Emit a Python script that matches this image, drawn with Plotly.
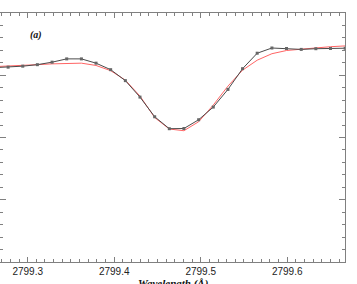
import plotly.graph_objects as go

wavelength = [2799.2604, 2799.2774, 2799.2943, 2799.3112, 2799.3282, 2799.3451,
              2799.3621, 2799.3790, 2799.3959, 2799.4129, 2799.4298, 2799.4468,
              2799.4637, 2799.4806, 2799.4976, 2799.5145, 2799.5315, 2799.5484,
              2799.5653, 2799.5823, 2799.5992, 2799.6162, 2799.6331, 2799.6500,
              2799.6670]

observed = [0.7804, 0.7825, 0.7865, 0.7925, 0.8025, 0.8157, 0.8157, 0.7985,
            0.7724, 0.7284, 0.6623, 0.5833, 0.5353, 0.5361, 0.5713, 0.6222,
            0.6931, 0.7764, 0.8385, 0.8594, 0.8574, 0.8538, 0.8566, 0.8574,
            0.8586]

model = [0.7845, 0.7865, 0.7893, 0.7925, 0.7957, 0.7985, 0.7985, 0.7893,
         0.7684, 0.7304, 0.6663, 0.5801, 0.5341, 0.5272, 0.5633, 0.6302,
         0.7063, 0.7704, 0.8105, 0.8365, 0.8494, 0.8546, 0.8606, 0.8646,
         0.8678]

x_ticks = [2799.3, 2799.4, 2799.5, 2799.6]
x_tick_labels = ["2799.3", "2799.4", "2799.5", "2799.6"]

fig = go.Figure()
fig.add_trace(go.Scatter(x=wavelength, y=model, mode="lines",
                         line=dict(color="#ff6464", width=1), cliponaxis=True,
                         showlegend=False))
fig.add_trace(go.Scatter(x=wavelength, y=observed, mode="lines+markers",
                         line=dict(color="#4a4a4a", width=1),
                         marker=dict(symbol="square", size=3, color="#666666"),
                         cliponaxis=True, showlegend=False))

axis_col = "#808080"
fig.update_layout(
    width=357, height=284,
    margin=dict(l=0, r=12, t=13, b=22),
    paper_bgcolor="white", plot_bgcolor="white",
    font=dict(family="Liberation Sans, Arial, sans-serif", size=10, color="#222222"),
    xaxis=dict(range=[2799.268, 2799.6668], showgrid=False, zeroline=False,
               showline=True, linecolor=axis_col, linewidth=1, mirror="ticks",
               ticks="inside", ticklen=5, tickcolor=axis_col, tickwidth=1,
               tickvals=x_ticks, ticktext=x_tick_labels,
               minor=dict(dtick=0.01, tick0=2799.3, ticks="inside", ticklen=3,
                          tickcolor=axis_col, showgrid=False)),
    yaxis=dict(range=[0, 1], showgrid=False, zeroline=False,
               showline=True, linecolor=axis_col, linewidth=1, mirror="ticks",
               ticks="inside", ticklen=6, tickcolor=axis_col, dtick=0.25, tick0=0,
               showticklabels=False,
               minor=dict(dtick=0.05, ticks="inside", ticklen=3,
                          tickcolor=axis_col, showgrid=False)),
    annotations=[
        dict(text="<b><i>(a)</i></b>", xref="paper", yref="paper", x=0.104, y=0.913,
             showarrow=False, xanchor="center", yanchor="middle",
             font=dict(family="Liberation Serif, Times New Roman, serif", size=10, color="#111111")),
        dict(text="<b><i>Wavelength (Å)</i></b>", xref="paper", yref="paper", x=0.5, y=-0.053,
             showarrow=False, xanchor="center", yanchor="top",
             font=dict(family="Liberation Serif, Times New Roman, serif", size=11, color="#111111")),
    ],
)

fig.write_html("out.html", config={"displayModeBar": False},
               post_script="document.body.style.margin='0';document.body.style.overflow='hidden';")
